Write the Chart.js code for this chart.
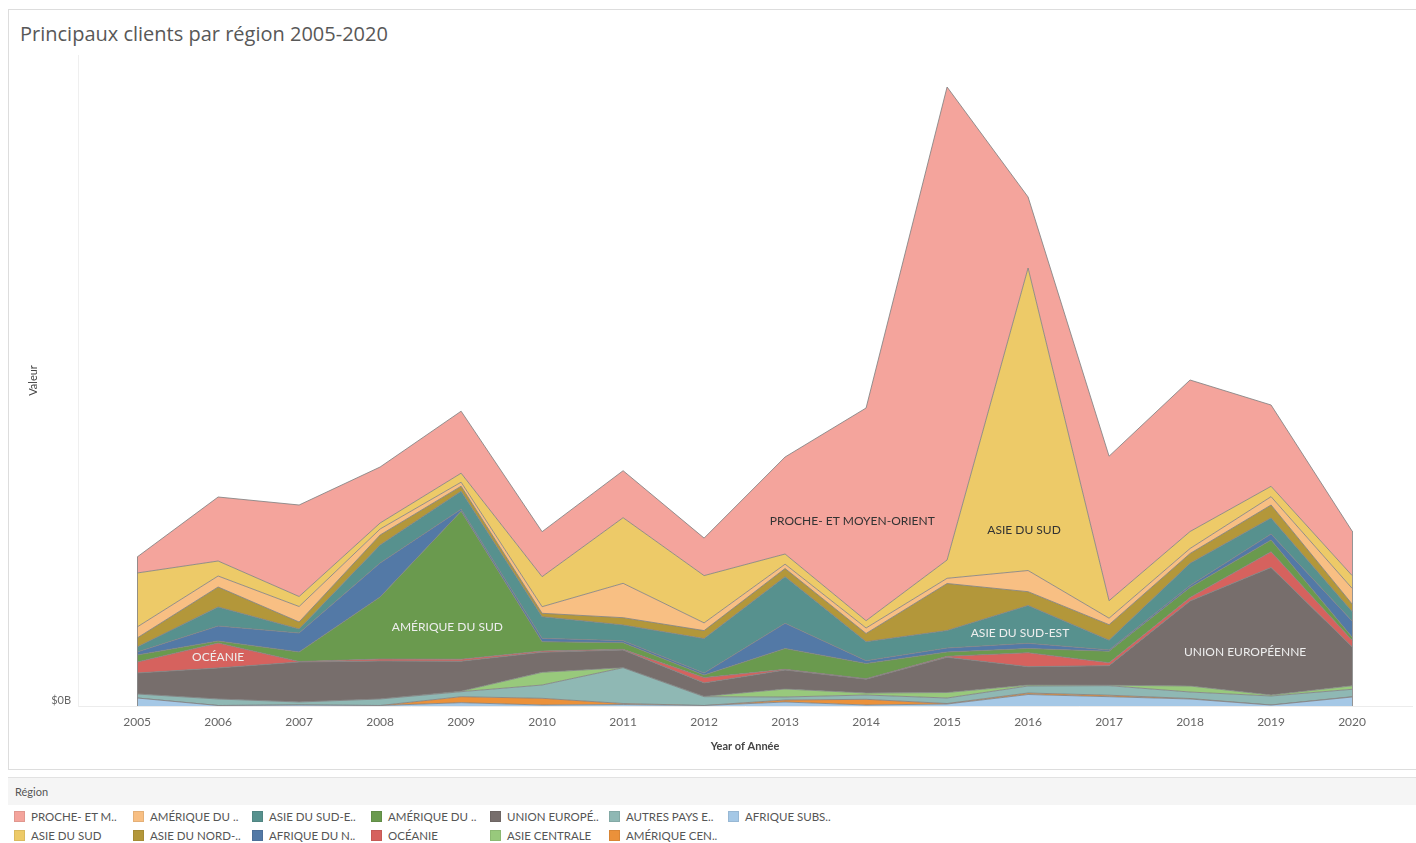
<!DOCTYPE html>
<html lang="fr">
<head>
<meta charset="utf-8">
<title>Principaux clients par région 2005-2020</title>
<script src="https://cdn.jsdelivr.net/npm/chart.js@4.4.1/dist/chart.umd.min.js"></script>
<style>
  body { margin: 0; background: #fff; font-family: Lato, "Open Sans", sans-serif; }
  #panel { position: absolute; left: 8px; top: 9px; width: 1420px; height: 761px; border: 1px solid #dddddd; box-sizing: border-box; }
  #title { position: absolute; left: 20px; top: 20px; font-family: "Open Sans", Lato, sans-serif; font-size: 20px; line-height: 28px; color: #585858; }
  #chartBox { position: absolute; left: 0; top: 0; width: 1416px; height: 770px; }
  #legendBox { position: absolute; left: 8px; top: 777px; width: 1420px; height: 66px; border-top: 1px solid #e2e2e2; }
  #legendHead { position: absolute; left: 0; top: 0; width: 100%; height: 27px; background: #f5f5f5; }
  #legendHead span { position: absolute; left: 7px; top: 7px; font-size: 11px; color: #555; }
  .item { position: absolute; font-size: 11.5px; color: #555; white-space: nowrap; line-height: 14px; }
  .item i { display: inline-block; width: 11px; height: 11px; margin-right: 6px; vertical-align: -1px; box-sizing: border-box; border: 1px solid rgba(0,0,0,0.08); }
</style>
</head>
<body>
<div id="panel"></div>
<div id="title">Principaux clients par région 2005-2020</div>
<div id="chartBox"><canvas id="regionChart"></canvas></div>
<div id="legendBox">
  <div id="legendHead"><span>Région</span></div>
  <div id="legendItems"></div>
</div>
<script>
const years = [2005, 2006, 2007, 2008, 2009, 2010, 2011, 2012, 2013, 2014, 2015, 2016, 2017, 2018, 2019, 2020];

// one array per region, stacked from the bottom up
const afriqueSubs  = [8, 0.5, 1, 0.5, 3.3, 1, 1.5, 0.5, 4, 1, 2, 11.5, 9.3, 7, 1, 9];
const ameriqueCen  = [0, 0, 0, 0, 6, 6.7, 1, 0, 2, 5.7, 0.5, 1.5, 1.5, 0.5, 0, 0.3];
const autresPays   = [4, 6.5, 3, 6.5, 5, 13.3, 35.8, 8.8, 3, 4.3, 5.5, 7, 9.5, 6.5, 9, 7.4];
const asieCentrale = [0, 0, 0, 0, 0.5, 12.7, 0, 0.3, 8, 2, 5.5, 1, 0.5, 6, 1, 3.5];
const unionEuro    = [21, 31, 40, 38, 30, 20, 17.7, 13.5, 19, 13.8, 35.2, 18.3, 19.5, 85, 127.5, 39.1];
const oceanie      = [11, 25, 0.5, 2, 2, 1.3, 0.7, 5.3, 0.7, 0.5, 1, 14, 3, 3.5, 15.8, 6.4];
const ameriqueSud  = [7, 2, 9.5, 62, 148, 9.3, 6.6, 2.5, 20.8, 15.2, 4.3, 4.2, 11.5, 10, 11.7, 3.3];
const afriqueNord  = [3, 15, 19, 34, 2, 3.4, 2, 2, 25.2, 2.8, 4, 5.2, 1.3, 2, 6, 16];
const asieSudEst   = [5, 19, 4, 18, 18, 21.6, 15.7, 34.5, 46.6, 19, 17.5, 37.8, 9.7, 22.2, 16, 9.5];
const asieNordEst  = [9, 20, 7, 10, 5, 3.4, 7.3, 8, 8.2, 8.2, 47, 13.8, 15.5, 9.8, 13, 7.5];
const ameriqueNord = [11, 11, 15.5, 6, 4, 6.6, 34.4, 7.7, 4.3, 5.5, 5.2, 21.2, 6.5, 5, 8.3, 15.7];
const asieSud      = [54, 15, 10, 6, 9, 30, 65.6, 47.3, 10.2, 7.3, 18.3, 302.5, 17.5, 17, 10.4, 12.8];
const procheOrient = [16, 64, 91.5, 56, 62, 45, 47, 37.5, 97, 212.7, 473, 71, 144.5, 151.5, 81.3, 44.5];

// legend order (top of the stack first)
const regions = ["PROCHE- ET MOYEN-ORIENT", "ASIE DU SUD", "AMÉRIQUE DU NORD", "ASIE DU NORD-EST", "ASIE DU SUD-EST",
  "AFRIQUE DU NORD", "AMÉRIQUE DU SUD", "OCÉANIE", "UNION EUROPÉENNE", "ASIE CENTRALE",
  "AUTRES PAYS EUROPÉENS", "AMÉRIQUE CENTRALE", "AFRIQUE SUBSAHARIENNE"];
const legendLabels = ["PROCHE- ET M..", "ASIE DU SUD", "AMÉRIQUE DU ..", "ASIE DU NORD-..", "ASIE DU SUD-E..",
  "AFRIQUE DU N..", "AMÉRIQUE DU ..", "OCÉANIE", "UNION EUROPÉ..", "ASIE CENTRALE",
  "AUTRES PAYS E..", "AMÉRIQUE CEN..", "AFRIQUE SUBS.."];
const series = [procheOrient, asieSud, ameriqueNord, asieNordEst, asieSudEst, afriqueNord, ameriqueSud,
  oceanie, unionEuro, asieCentrale, autresPays, ameriqueCen, afriqueSubs];
const colors = ["#f4a49c", "#edca68", "#f8bf83", "#b3973a", "#57918e", "#5379a6", "#6a9a4e",
  "#d6625e", "#776e6c", "#98c97c", "#8fb8b4", "#eb913a", "#a5c8e6"];

// text labels placed on the areas, in data units (year, value)
const markLabels = [
  { text: "PROCHE- ET MOYEN-ORIENT", year: 2013.83, value: 185, dark: true },
  { text: "ASIE DU SUD", year: 2015.95, value: 176, dark: true },
  { text: "AMÉRIQUE DU SUD", year: 2008.83, value: 79, dark: false },
  { text: "OCÉANIE", year: 2006, value: 49, dark: false },
  { text: "ASIE DU SUD-EST", year: 2015.9, value: 73, dark: false },
  { text: "UNION EUROPÉENNE", year: 2018.68, value: 54, dark: false }
];

const areaLabels = {
  id: "areaLabels",
  afterDatasetsDraw(chart) {
    const { ctx, scales: { x, y } } = chart;
    ctx.save();
    // closing outline on the first and last year of the stack
    const total = i => series.reduce((sum, s) => sum + s[i], 0);
    ctx.strokeStyle = "rgba(130,130,130,0.85)";
    ctx.lineWidth = 1;
    [0, years.length - 1].forEach(i => {
      const px = Math.round(x.getPixelForValue(years[i])) + 0.5;
      ctx.beginPath();
      ctx.moveTo(px, y.getPixelForValue(0));
      ctx.lineTo(px, y.getPixelForValue(total(i)));
      ctx.stroke();
    });

    ctx.font = "12px Lato";
    ctx.textAlign = "center";
    ctx.textBaseline = "middle";
    markLabels.forEach(l => {
      ctx.fillStyle = l.dark ? "#333" : "#eeeeee";
      ctx.fillText(l.text, x.getPixelForValue(l.year), y.getPixelForValue(l.value));
    });
    ctx.restore();
  }
};

function renderChart() {
  const ctx = document.getElementById("regionChart").getContext("2d");

  // bottom of the stack first
  const datasets = [];
  for (let i = series.length - 1; i >= 0; i--) {
    datasets.push({
      label: regions[i],
      data: years.map((yr, j) => ({ x: yr, y: series[i][j] })),
      backgroundColor: colors[i],
      borderColor: "rgba(130,130,130,0.85)",
      borderWidth: 1,
      pointRadius: 0,
      tension: 0,
      fill: datasets.length === 0 ? "origin" : "-1"
    });
  }

  new Chart(ctx, {
    type: "line",
    data: { datasets: datasets },
    options: {
      responsive: true,
      maintainAspectRatio: false,
      animation: false,
      layout: { padding: { left: 20, right: 4, top: 55, bottom: 6 } },
      plugins: { legend: { display: false }, tooltip: { enabled: false } },
      scales: {
        x: {
          type: "linear",
          min: 2004.27,
          max: 2020.74,
          grid: { display: false, drawTicks: false },
          border: { display: true, color: "#ececec" },
          afterBuildTicks: s => { s.ticks = years.map(v => ({ value: v })); },
          ticks: { callback: v => String(v), color: "#666", font: { family: "Lato", size: 12 }, padding: 9, maxRotation: 0, autoSkip: false },
          title: { display: true, text: "Year of Année", color: "#444", font: { family: "Lato", size: 11, weight: "bold" }, padding: { top: 4, bottom: 11 } },
          afterFit: s => { s.height = 58; }
        },
        y: {
          stacked: true,
          min: 0,
          max: 651,
          grid: { display: false, drawTicks: false },
          border: { display: true, color: "#efefef" },
          afterBuildTicks: s => { s.ticks = [{ value: 0 }]; },
          ticks: { callback: v => "$" + v + "B", color: "#666", font: { family: "Lato", size: 11 }, padding: 7, labelOffset: -6 },
          title: { display: true, text: "Valeur", color: "#444", font: { family: "Lato", size: 11 }, padding: { top: 7 } },
          afterFit: s => { s.width = 58; }
        }
      }
    },
    plugins: [areaLabels]
  });
}

function renderLegend() {
  const box = document.getElementById("legendItems");
  legendLabels.forEach((name, k) => {
    const col = Math.floor(k / 2);
    const row = k % 2;
    const item = document.createElement("div");
    item.className = "item";
    item.style.left = (6 + col * 119) + "px";
    item.style.top = (32 + row * 19) + "px";
    const sw = document.createElement("i");
    sw.style.background = colors[k];
    item.appendChild(sw);
    item.appendChild(document.createTextNode(name));
    box.appendChild(item);
  });
}

renderChart();
renderLegend();
</script>
</body>
</html>
